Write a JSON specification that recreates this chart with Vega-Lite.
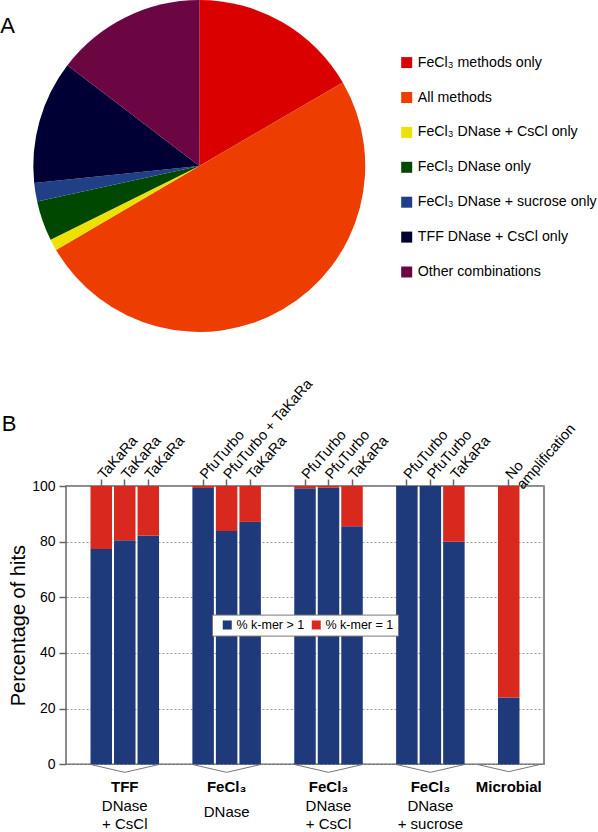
{
  "$schema": "https://vega.github.io/schema/vega-lite/v6.json",
  "padding": 0,
  "background": "white",
  "spacing": 42,
  "resolve": {"scale": {"color": "independent"}, "legend": {"color": "independent"}},
  "config": {
    "font": "Liberation Sans",
    "title": {"color": "black", "fontWeight": "normal"}
  },
  "datasets": {
    "pie": [
      {"category": "FeCl₃ methods only", "share": 16.6, "rank": 1},
      {"category": "All methods", "share": 49.9, "rank": 2},
      {"category": "FeCl₃ DNase + CsCl only", "share": 1.1, "rank": 3},
      {"category": "FeCl₃ DNase only", "share": 3.9, "rank": 4},
      {"category": "FeCl₃ DNase + sucrose only", "share": 1.8, "rank": 5},
      {"category": "TFF DNase + CsCl only", "share": 12.0, "rank": 6},
      {"category": "Other combinations", "share": 14.6, "rank": 7}
    ],
    "bars": [
      {"bar": "TaKaRa|1", "type": "% k-mer > 1", "pct": 77.4},
      {"bar": "TaKaRa|1", "type": "% k-mer = 1", "pct": 22.6},
      {"bar": "TaKaRa|2", "type": "% k-mer > 1", "pct": 80.5},
      {"bar": "TaKaRa|2", "type": "% k-mer = 1", "pct": 19.5},
      {"bar": "TaKaRa|3", "type": "% k-mer > 1", "pct": 82.2},
      {"bar": "TaKaRa|3", "type": "% k-mer = 1", "pct": 17.8},
      {"bar": "PfuTurbo|4", "type": "% k-mer > 1", "pct": 99.3},
      {"bar": "PfuTurbo|4", "type": "% k-mer = 1", "pct": 0.7},
      {"bar": "PfuTurbo + TaKaRa|5", "type": "% k-mer > 1", "pct": 83.8},
      {"bar": "PfuTurbo + TaKaRa|5", "type": "% k-mer = 1", "pct": 16.2},
      {"bar": "TaKaRa|6", "type": "% k-mer > 1", "pct": 87.1},
      {"bar": "TaKaRa|6", "type": "% k-mer = 1", "pct": 12.9},
      {"bar": "PfuTurbo|7", "type": "% k-mer > 1", "pct": 99.2},
      {"bar": "PfuTurbo|7", "type": "% k-mer = 1", "pct": 0.8},
      {"bar": "PfuTurbo|8", "type": "% k-mer > 1", "pct": 99.4},
      {"bar": "PfuTurbo|8", "type": "% k-mer = 1", "pct": 0.6},
      {"bar": "TaKaRa|9", "type": "% k-mer > 1", "pct": 85.5},
      {"bar": "TaKaRa|9", "type": "% k-mer = 1", "pct": 14.5},
      {"bar": "PfuTurbo|10", "type": "% k-mer > 1", "pct": 100},
      {"bar": "PfuTurbo|10", "type": "% k-mer = 1", "pct": 0},
      {"bar": "PfuTurbo|11", "type": "% k-mer > 1", "pct": 100},
      {"bar": "PfuTurbo|11", "type": "% k-mer = 1", "pct": 0},
      {"bar": "TaKaRa|12", "type": "% k-mer > 1", "pct": 80.0},
      {"bar": "TaKaRa|12", "type": "% k-mer = 1", "pct": 20.0},
      {"bar": "No amplification|13", "type": "% k-mer > 1", "pct": 24.0},
      {"bar": "No amplification|13", "type": "% k-mer = 1", "pct": 76.0}
    ],
    "groups": [
      {"bar": "TaKaRa|2", "name": "TFF", "sub": "DNase\n+ CsCl", "lines": 2},
      {"bar": "PfuTurbo + TaKaRa|5", "name": "FeCl₃", "sub": "DNase", "lines": 1},
      {"bar": "PfuTurbo|8", "name": "FeCl₃", "sub": "DNase\n+ CsCl", "lines": 2},
      {"bar": "PfuTurbo|11", "name": "FeCl₃", "sub": "DNase\n+ sucrose", "lines": 2},
      {"bar": "No amplification|13", "name": "Microbial", "sub": "", "lines": 0}
    ]
  },
  "vconcat": [
    {
      "width": 266.6,
      "height": 332,
      "view": {"stroke": null},
      "title": {"text": "A", "anchor": "start", "frame": "bounds", "fontSize": 22, "baseline": "top", "offset": -18, "dx": -33, "dy": 20},
      "data": {"name": "pie"},
      "mark": {"type": "arc", "radius": 166},
      "encoding": {
        "theta": {"field": "share", "type": "quantitative", "stack": true},
        "order": {"field": "rank", "type": "quantitative"},
        "color": {
          "field": "category",
          "type": "nominal",
          "sort": ["FeCl₃ methods only", "All methods", "FeCl₃ DNase + CsCl only", "FeCl₃ DNase only", "FeCl₃ DNase + sucrose only", "TFF DNase + CsCl only", "Other combinations"],
          "scale": {
            "domain": ["FeCl₃ methods only", "All methods", "FeCl₃ DNase + CsCl only", "FeCl₃ DNase only", "FeCl₃ DNase + sucrose only", "TFF DNase + CsCl only", "Other combinations"],
            "range": ["#da0000", "#ee3d00", "#eee000", "#004800", "#1f3f87", "#000035", "#6b0642"]
          },
          "legend": {
            "title": null, "orient": "none", "legendX": 333.6, "legendY": 55.5,
            "direction": "vertical",
            "symbolType": "square", "symbolSize": 121, "symbolStrokeWidth": 0,
            "labelFontSize": 14.2, "labelColor": "black", "rowPadding": 19.9,
            "labelOffset": 4, "padding": 0, "labelLimit": 300
          }
        }
      }
    },
    {
      "width": 478,
      "height": 278.3,
      "view": {"stroke": "#666", "strokeWidth": 1.5},
      "title": {"text": "B", "anchor": "start", "frame": "bounds", "fontSize": 22, "baseline": "top", "offset": -30, "dx": -7, "dy": 30},
      "layer": [
        {
          "data": {"name": "bars"},
          "mark": {"type": "bar", "width": 21.5},
          "encoding": {
            "x": {
              "field": "bar", "type": "nominal",
              "scale": {
                "domain": ["_0","_1","_2","_3","TaKaRa|1","_5","_6","TaKaRa|2","_8","_9","TaKaRa|3","_11","_12","_13","_14","_15","_16","PfuTurbo|4","_18","_19","PfuTurbo + TaKaRa|5","_21","_22","TaKaRa|6","_24","_25","_26","_27","_28","_29","PfuTurbo|7","_31","_32","PfuTurbo|8","_34","_35","TaKaRa|9","_37","_38","_39","_40","_41","_42","PfuTurbo|10","_44","_45","PfuTurbo|11","_47","_48","TaKaRa|12","_50","_51","_52","_53","_54","_55","No amplification|13","_57","_58","_59","_60"],
                "paddingInner": 0, "paddingOuter": 0
              },
              "axis": {
                "orient": "top", "title": null,
                "values": ["TaKaRa|1","TaKaRa|2","TaKaRa|3","PfuTurbo|4","PfuTurbo + TaKaRa|5","TaKaRa|6","PfuTurbo|7","PfuTurbo|8","TaKaRa|9","PfuTurbo|10","PfuTurbo|11","TaKaRa|12","No amplification|13"],
                "labelExpr": "datum.value == 'No amplification|13' ? ['No', 'amplification'] : split(datum.value, '|')[0]",
                "labelAngle": -49, "labelAlign": "left", "labelBaseline": "middle",
                "labelFontSize": 14.5, "labelColor": "black", "labelPadding": 2, "labelLineHeight": 15,
                "labelOverlap": false, "labelBound": false, "labelFlush": false, "labelLimit": 300,
                "tickSize": 7, "tickColor": "#666", "tickWidth": 1.5,
                "domain": false, "grid": false
              }
            },
            "y": {
              "field": "pct", "type": "quantitative", "stack": true,
              "scale": {"domain": [0, 100], "nice": false},
              "axis": {
                "title": "Percentage of hits", "titleFontSize": 20, "titleFontWeight": "normal", "titleColor": "black", "titlePadding": 3,
                "values": [0, 10, 20, 30, 40, 50, 60, 70, 80, 90, 100],
                "labelExpr": "datum.value % 20 == 0 ? datum.label : ''",
                "labelFontSize": 14, "labelColor": "black", "labelPadding": 4,
                "tickSize": 7, "tickColor": "#666", "tickWidth": 1.5,
                "tickOpacity": {"condition": {"test": "datum.value % 20 != 0", "value": 0}, "value": 1},
                "domain": false, "grid": true, "gridDash": [2, 2], "gridColor": "#999", "gridWidth": 1
              }
            },
            "color": {
              "field": "type", "type": "nominal",
              "scale": {"domain": ["% k-mer > 1", "% k-mer = 1"], "range": ["#1f3a7b", "#d9281e"]},
              "legend": {
                "title": null, "orient": "none", "legendX": 146, "legendY": 128.6, "direction": "horizontal",
                "fillColor": "white", "strokeColor": "#777", "padding": 4,
                "symbolType": "square", "symbolSize": 81, "symbolStrokeWidth": 0,
                "labelFontSize": 12.5, "labelColor": "black", "labelOffset": 3, "columnPadding": 0, "symbolOffset": 5
              }
            },
            "order": {"field": "type", "sort": "descending"}
          }
        },
        {
          "data": {"name": "groups"},
          "mark": {"type": "point", "shape": "M-1,0L0,0.23L1,0", "filled": false, "stroke": "#777", "strokeWidth": 1, "opacity": 1},
          "encoding": {
            "x": {"field": "bar", "type": "nominal"},
            "y": {"datum": 0},
            "size": {"condition": {"test": "datum.name == 'Microbial'", "value": 4096}, "value": 4900}
          }
        },
        {
          "data": {"name": "groups"},
          "mark": {"type": "text", "fontWeight": "bold", "fontSize": 15, "baseline": "middle", "dy": 23, "color": "black"},
          "encoding": {
            "x": {"field": "bar", "type": "nominal"},
            "y": {"datum": 0},
            "text": {"field": "name"}
          }
        },
        {
          "data": {"name": "groups"},
          "transform": [{"filter": "datum.lines == 2"}],
          "mark": {"type": "text", "fontSize": 15, "baseline": "middle", "dy": 42, "lineBreak": "\n", "lineHeight": 17.6, "color": "black"},
          "encoding": {
            "x": {"field": "bar", "type": "nominal"},
            "y": {"datum": 0},
            "text": {"field": "sub"}
          }
        },
        {
          "data": {"name": "groups"},
          "transform": [{"filter": "datum.lines == 1"}],
          "mark": {"type": "text", "fontSize": 15, "baseline": "middle", "dy": 48, "color": "black"},
          "encoding": {
            "x": {"field": "bar", "type": "nominal"},
            "y": {"datum": 0},
            "text": {"field": "sub"}
          }
        }
      ]
    }
  ]
}
